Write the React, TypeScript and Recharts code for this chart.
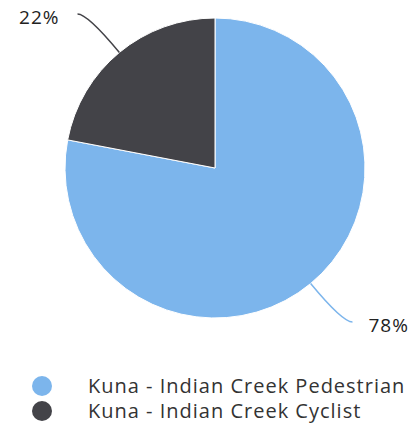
import React from 'react';
import { PieChart, Pie, Cell, Legend } from 'recharts';

const names = ['Kuna - Indian Creek Pedestrian', 'Kuna - Indian Creek Cyclist'];
const shares = [78, 22];
const colors = ['#7cb5ec', '#434348'];

const data = names.map((name, i) => ({ name, value: shares[i] }));

const RAD = Math.PI / 180;
const FONT = "'Open Sans', sans-serif";

const renderLabel = (props: any) => {
  const { cx, cy, midAngle, outerRadius, index, value } = props;
  const cos = Math.cos(-midAngle * RAD);
  const sin = Math.sin(-midAngle * RAD);
  const sx = cx + outerRadius * cos;
  const sy = cy + outerRadius * sin;
  const mx = cx + (outerRadius + 50) * cos;
  const my = cy + (outerRadius + 50) * sin;
  const right = cos >= 0;
  const ex = mx + (right ? 10 : -10);
  const tx = ex + (right ? 16 : -18);
  return (
    <g>
      <path
        d={`M${sx},${sy} Q${mx},${my} ${ex},${my}`}
        stroke={colors[index]}
        strokeWidth={1.5}
        fill="none"
      />
      <text
        x={tx}
        y={my + 3}
        textAnchor={right ? 'start' : 'end'}
        dominantBaseline="central"
        fill="#222"
        fontSize={19}
        letterSpacing={1}
        fontFamily={FONT}
      >
        {value}%
      </text>
    </g>
  );
};

const renderLegend = () => (
  <div style={{ fontFamily: FONT, fontSize: 20, letterSpacing: 1, color: '#333' }}>
    {data.map((d, i) => (
      <div key={d.name} style={{ display: 'flex', alignItems: 'center', height: 25 }}>
        <span
          style={{
            width: 20,
            height: 20,
            borderRadius: 10,
            background: colors[i],
            marginLeft: 32,
            marginRight: 36,
          }}
        />
        <span>{d.name}</span>
      </div>
    ))}
  </div>
);

export default function App() {
  return (
    <div style={{ position: 'absolute', left: 0, top: 0, background: '#fff' }}>
      <PieChart width={412} height={425} margin={{ top: 0, right: 0, bottom: 0, left: 0 }}>
        <Pie
          data={data}
          dataKey="value"
          nameKey="name"
          cx={215}
          cy={168}
          outerRadius={150}
          startAngle={90}
          endAngle={-270}
          stroke="#fff"
          strokeWidth={1}
          label={renderLabel}
          labelLine={false}
          isAnimationActive={false}
        >
          {data.map((d, i) => (
            <Cell key={d.name} fill={colors[i]} />
          ))}
        </Pie>
        <Legend
          content={renderLegend}
          wrapperStyle={{ position: 'absolute', top: 373, left: 0, width: 412 }}
        />
      </PieChart>
    </div>
  );
}
